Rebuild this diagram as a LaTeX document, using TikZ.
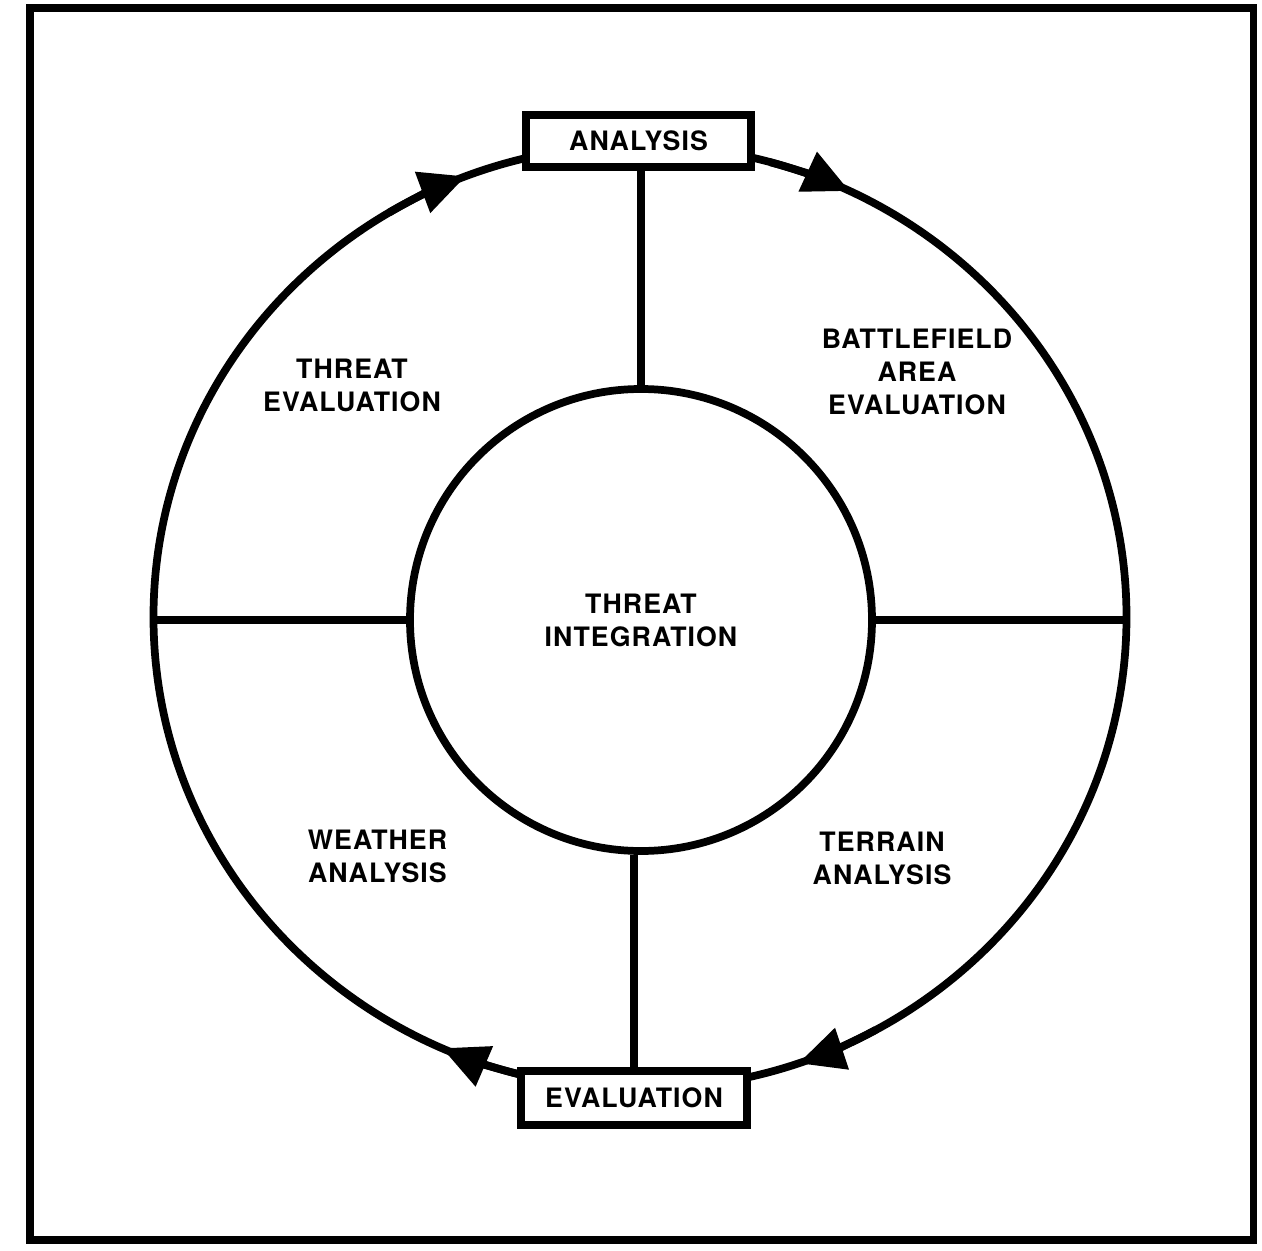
\documentclass[tikz,border=0pt]{standalone}
\usepackage{fontspec}
\setsansfont{TeX Gyre Heros}[LetterSpace=4]
\usepackage{tikz}
\usetikzlibrary{arrows.meta,positioning}

\newcommand{\stagefnt}{\sffamily\bfseries\fontsize{7.6}{9.4}\selectfont}

\tikzset{
  stagebox/.style={draw, line width=2.3pt, fill=white, minimum width=2.25cm,
    minimum height=0.52cm, inner sep=0pt, font=\stagefnt},
  stagetext/.style={align=center, font=\stagefnt},
}

\begin{document}
\begin{tikzpicture}[line width=2.2pt, >={Triangle[length=0.46cm,width=0.42cm]}]
        \useasboundingbox (-6.40,6.17) rectangle (6.22,-6.33);
        % Frame
        \draw[line width=2pt] (-6.10,6.09) rectangle (6.13,-6.23);
        % Outer ring
        \draw (0,0) ellipse [x radius=4.865, y radius=4.72];
        % Flow arrows, clockwise
        \foreach \a [evaluate=\a as \b using \a+10] in {111,64.5,-71,-114}
          \draw[->] (\b:4.865 and 4.72) arc[start angle=\b, end angle=\a, x radius=4.865, y radius=4.72];
        % Centre
        \node[circle, draw, minimum size=4.62cm, inner sep=0pt, stagetext] (integ) at (0.01,-0.03) {THREAT\\INTEGRATION};
        % Boxes on the ring
        \node[stagebox] (ana) at (-0.015,4.76) {ANALYSIS};
        \node[stagebox, minimum width=2.26cm, minimum height=0.54cm] (eva) at (-0.06,-4.81) {EVALUATION};
        % Spokes
        \coordinate (west) at (-4.865,-0.03);
        \coordinate (east) at (4.865,-0.03);
        \draw (integ.north) -- (integ.north |- ana.south);
        \draw (eva.north) -- (eva.north |- integ.south);
        \draw (west) -- (integ.west);
        \draw (integ.east) -- (east);
        % Quadrant labels
        \node[stagetext] (threat) at (-2.88,2.32) {THREAT\\EVALUATION};
        \node[stagetext] (field) at (2.77,2.45) {BATTLEFIELD\\AREA\\EVALUATION};
        \node[stagetext] (weather) at (-2.625,-2.39) {WEATHER\\ANALYSIS};
        \node[stagetext] (terrain) at (2.42,-2.41) {TERRAIN\\ANALYSIS};
\end{tikzpicture}
\end{document}
